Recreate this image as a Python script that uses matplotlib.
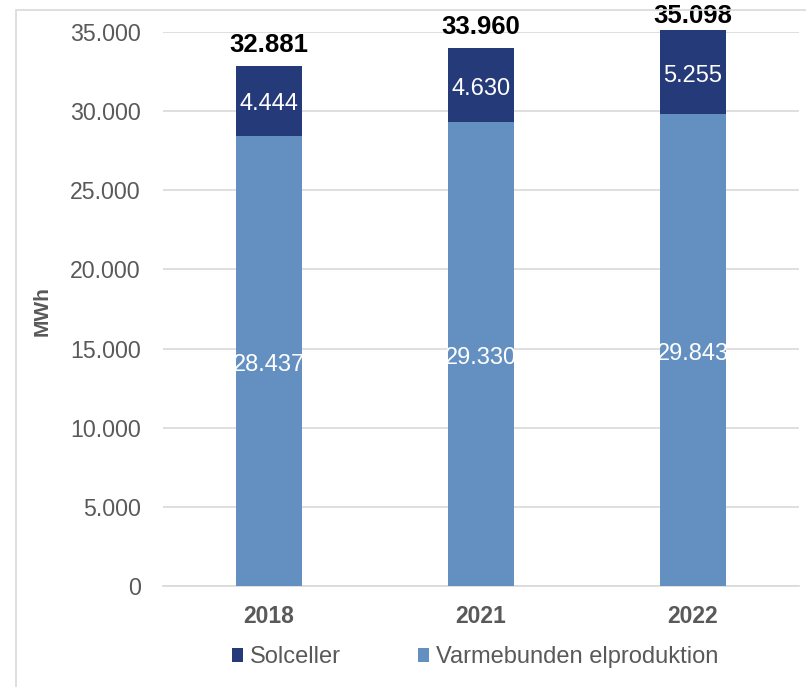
import matplotlib
matplotlib.use("Agg")
import matplotlib.pyplot as plt
from matplotlib.patches import Rectangle
import numpy as np

plt.rcParams['font.family'] = ['Liberation Sans', 'DejaVu Sans']

years = ["2018", "2021", "2022"]
varmebunden = [28437, 29330, 29843]
solceller = [4444, 4630, 5255]
totals = [32881, 33960, 35098]
yticks = [0, 5000, 10000, 15000, 20000, 25000, 30000, 35000]

dark = "#253a78"
light = "#6490c1"
grid_c = "#d9d9d9"
text_c = "#595959"

W, H = 806, 687


def fmt(v):
    return f"{v:,}".replace(",", ".")


fig = plt.figure(figsize=(W / 100, H / 100), dpi=100)
fig.patches.append(Rectangle((16 / W, -0.1), 1.2, 0.1 + 1 - 10 / H,
                             transform=fig.transFigure, fill=False,
                             edgecolor=grid_c, linewidth=1.2))

ax = fig.add_axes([163 / W, 1 - 586 / H, (799 - 163) / W, (586 - 32) / H])
x = np.arange(len(years))
w = 0.315
b1 = ax.bar(x, varmebunden, w, color=light, label="Varmebunden elproduktion",
            zorder=3, clip_on=False)
b2 = ax.bar(x, solceller, w, bottom=varmebunden, color=dark, label="Solceller",
            zorder=3, clip_on=False)

ax.set_xlim(-0.5, 2.5)
ax.set_ylim(0, 35000)

for i in range(len(years)):
    ax.annotate(fmt(varmebunden[i]), (x[i], varmebunden[i] / 2),
                xytext=(0, -3), textcoords="offset points", ha="center", va="center",
                color="white", fontsize=17, zorder=4)
    ax.annotate(fmt(solceller[i]), (x[i], varmebunden[i] + solceller[i] / 2),
                xytext=(0, -2.5), textcoords="offset points", ha="center", va="center",
                color="white", fontsize=17, zorder=4)
    # total label above the stack, kept inside the figure
    top = varmebunden[i] + solceller[i]
    px, py = ax.transData.transform((x[i], top))
    ly = min(py + 21, H - 16)
    ax.annotate(fmt(totals[i]), (px, ly), xycoords="figure pixels",
                ha="center", va="center", fontsize=18.5, fontweight="bold",
                color="black", annotation_clip=False)

ax.set_yticks(yticks)
ax.set_yticklabels([fmt(v) for v in yticks], fontsize=16.7, color=text_c)
ax.set_xticks(x)
ax.set_xticklabels(years, fontsize=16.5, fontweight="bold", color=text_c)
ax.tick_params(axis="y", length=0, pad=16)
ax.tick_params(axis="x", length=0, pad=14)
ax.grid(axis="y", color=grid_c, linewidth=1.2, zorder=0)
for s in ["top", "right", "left"]:
    ax.spines[s].set_visible(False)
ax.spines["bottom"].set_color(grid_c)
ax.spines["bottom"].set_linewidth(1.2)

fig.text(42 / W, 1 - 311 / H, "MWh", rotation=90, ha="center", va="center",
         fontsize=15, fontweight="bold", color=text_c)

handles = [b2, b1]
leg = fig.legend(handles, ["Solceller", "Varmebunden elproduktion"],
                 loc="center", bbox_to_anchor=(475.5 / W, 1 - 657 / H), ncol=2,
                 frameon=False, fontsize=17, handlelength=0.47, handleheight=0.55,
                 handletextpad=0.3, columnspacing=3.26, labelcolor=text_c)

fig.savefig("out.png", dpi=100)
